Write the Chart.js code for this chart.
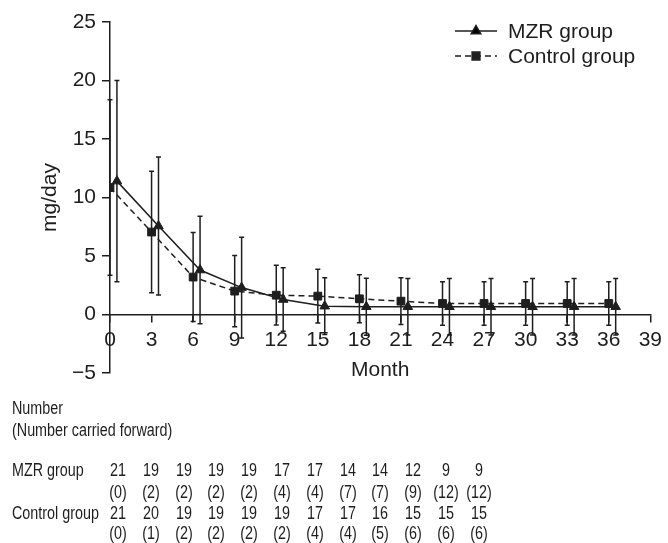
<!DOCTYPE html>
<html>
<head>
<meta charset="utf-8">
<script src="https://cdn.jsdelivr.net/npm/chart.js@4.4.1/dist/chart.umd.min.js"></script>
<style>
  body { margin: 0; background: #fff; }
  #wrap { position: relative; width: 668px; height: 543px; }
  #myChart { position: absolute; left: 0; top: 0; }
  .t { position: absolute; font: 17.5px "Liberation Sans", Arial, sans-serif; color: #1e1e1e; white-space: nowrap; line-height: 20px; transform: scaleX(0.82); transform-origin: 0 50%; }
  .c { width: 44px; text-align: center; transform-origin: 50% 50%; }
</style>
</head>
<body>
<div id="wrap">
  <canvas id="myChart" width="668" height="543"></canvas>
</div>
<script>
// months of follow-up
const months = [0, 3, 6, 9, 12, 15, 18, 21, 24, 27, 30, 33, 36];

// mean and SD (mg/day)
const mzrMean = [11.4, 7.56, 3.8, 2.3, 1.28, 0.71, 0.66, 0.66, 0.66, 0.66, 0.66, 0.66, 0.66];
const mzrSd = [8.6, 5.9, 4.6, 4.3, 2.72, 2.43, 2.43, 2.42, 2.42, 2.42, 2.42, 2.42, 2.42];
const ctrlMean = [10.85, 7.05, 3.2, 2.0, 1.65, 1.57, 1.34, 1.14, 0.94, 0.94, 0.94, 0.94, 0.94];
const ctrlSd = [7.5, 5.2, 3.8, 3.05, 2.55, 2.3, 2.05, 2.0, 1.85, 1.85, 1.85, 1.85, 1.85];

// numbers under the chart
const mzrN = [21, 19, 19, 19, 19, 17, 17, 14, 14, 12, 9, 9];
const mzrCarried = [0, 2, 2, 2, 2, 4, 4, 7, 7, 9, 12, 12];
const ctrlN = [21, 20, 19, 19, 19, 19, 17, 17, 16, 15, 15, 15];
const ctrlCarried = [0, 1, 2, 2, 2, 2, 4, 4, 5, 6, 6, 6];

const ink = '#1e1e1e';
const mzrShift = 0.5; // triangles drawn a bit right of the squares

Chart.defaults.font.family = '"Liberation Sans", Arial, sans-serif';
Chart.defaults.font.size = 21;
Chart.defaults.color = ink;

const errorBars = {
  id: 'errorBars',
  beforeDatasetsDraw(chart) {
    const { ctx, scales: { x, y } } = chart;
    ctx.save();
    ctx.strokeStyle = ink;
    ctx.lineWidth = 1.5;
    chart.data.datasets.forEach(ds => {
      ds.data.forEach((p, i) => {
        const px = x.getPixelForValue(p.x);
        const top = y.getPixelForValue(p.y + ds.sd[i]);
        const bot = y.getPixelForValue(p.y - ds.sd[i]);
        ctx.beginPath();
        ctx.moveTo(px, top); ctx.lineTo(px, bot);
        ctx.moveTo(px - 2.5, top); ctx.lineTo(px + 2.5, top);
        ctx.moveTo(px - 2.5, bot); ctx.lineTo(px + 2.5, bot);
        ctx.stroke();
      });
    });
    ctx.restore();
  }
};

const boxLegend = {
  id: 'boxLegend',
  afterDraw(chart) {
    const ctx = chart.ctx;
    ctx.save();
    chart.data.datasets.forEach((ds, i) => {
      const yy = 31 + i * 25;
      ctx.strokeStyle = ink;
      ctx.lineWidth = 1.5;
      ctx.setLineDash(ds.borderDash || []);
      ctx.beginPath();
      ctx.moveTo(455, yy); ctx.lineTo(497, yy);
      ctx.stroke();
      ctx.setLineDash([]);
      Chart.helpers.drawPoint(ctx, { pointStyle: ds.pointStyle, radius: ds.pointRadius, borderWidth: 1 }, 476, yy);
      ctx.fillStyle = ink;
      ctx.font = '21px "Liberation Sans", Arial, sans-serif';
      ctx.textBaseline = 'middle';
      ctx.fillText(ds.label, 508, yy + 1);
    });
    ctx.restore();
  }
};

new Chart(document.getElementById('myChart'), {
  type: 'line',
  data: {
    datasets: [{
      label: 'MZR group',
      data: mzrMean.map((v, i) => ({ x: months[i] + mzrShift, y: v })),
      sd: mzrSd,
      borderColor: ink,
      backgroundColor: ink,
      borderWidth: 1.5,
      pointStyle: 'triangle',
      pointRadius: 5.5,
      pointBorderWidth: 1,
      fill: false
    }, {
      label: 'Control group',
      data: ctrlMean.map((v, i) => ({ x: months[i], y: v })),
      sd: ctrlSd,
      borderColor: ink,
      backgroundColor: ink,
      borderWidth: 1.5,
      borderDash: [6, 4],
      pointStyle: 'rect',
      pointRadius: 5.5,
      pointBorderWidth: 1,
      fill: false
    }]
  },
  options: {
    responsive: false,
    animation: false,
    layout: { padding: { left: 34, top: 22, right: 14, bottom: 170 } },
    plugins: { legend: { display: false }, tooltip: { enabled: false } },
    scales: {
      x: {
        type: 'linear',
        min: 0,
        max: 39,
        position: { y: 0 },
        ticks: { stepSize: 3, padding: 6 },
        grid: { drawOnChartArea: false, tickLength: 7, color: ink, lineWidth: 1.5 },
        border: { color: ink, width: 1.5 },
        title: { display: true, text: 'Month' },
        afterFit: s => { s.height = 72; }
      },
      y: {
        min: -5,
        max: 25,
        ticks: { stepSize: 5, padding: 6, callback: v => String(v).replace('-', '\u2212') },
        grid: { drawOnChartArea: false, tickLength: 8, color: ink, lineWidth: 1.5 },
        border: { color: ink, width: 1.5 },
        title: { display: true, text: 'mg/day' },
        afterFit: s => { s.width = 76; }
      }
    }
  },
  plugins: [errorBars, boxLegend]
});

// table of patient numbers
const wrap = document.getElementById('wrap');
function addText(txt, left, top, cls) {
  const d = document.createElement('div');
  d.className = 't' + (cls ? ' ' + cls : '');
  d.textContent = txt;
  d.style.left = left + 'px';
  d.style.top = top + 'px';
  wrap.appendChild(d);
}
addText('Number', 12, 398);
addText('(Number carried forward)', 12, 420);
addText('MZR group', 12, 460);
addText('Control group', 12, 503);
mzrN.forEach((n, i) => {
  const cx = 118 + 32.8 * i - 22;
  addText(String(n), cx, 460, 'c');
  addText('(' + mzrCarried[i] + ')', cx, 482, 'c');
  addText(String(ctrlN[i]), cx, 503, 'c');
  addText('(' + ctrlCarried[i] + ')', cx, 523, 'c');
});
</script>
</body>
</html>
